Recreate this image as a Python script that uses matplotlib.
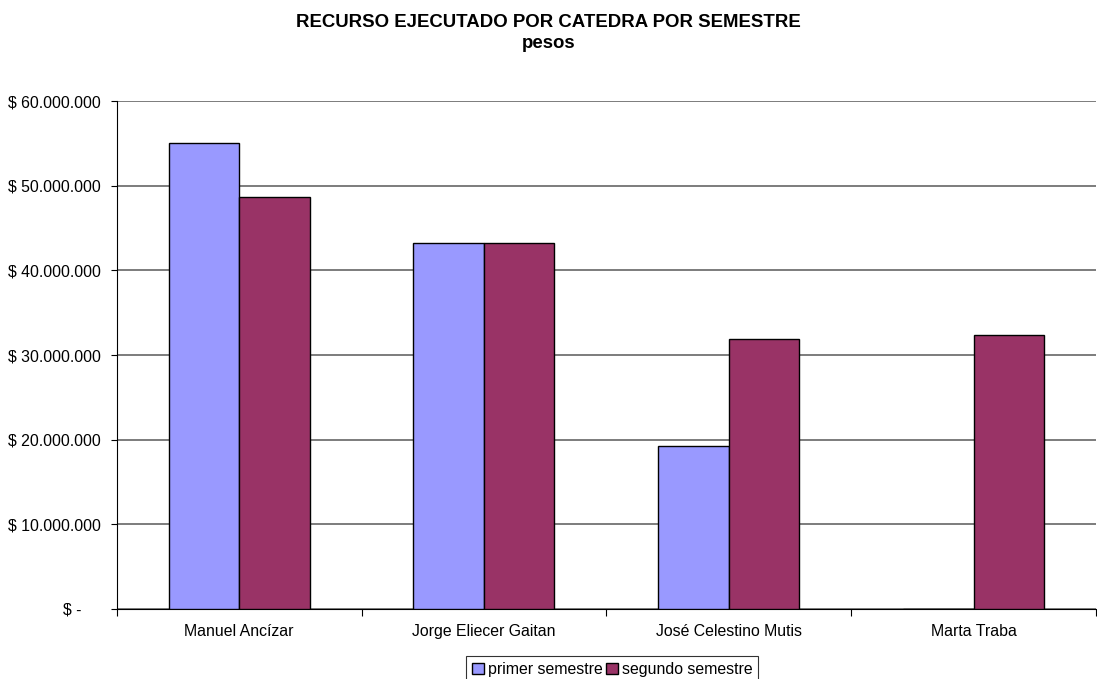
import numpy as np
import matplotlib
matplotlib.use("Agg")
import matplotlib.pyplot as plt
from matplotlib.ticker import FuncFormatter
from matplotlib.transforms import ScaledTranslation

plt.rcParams['font.family'] = ['Liberation Sans', 'DejaVu Sans']

catedras = ["Manuel Ancízar", "Jorge Eliecer Gaitan", "José Celestino Mutis", "Marta Traba"]
primer = [55100000, 43300000, 19200000, 0]
segundo = [48700000, 43200000, 31900000, 32400000]
yticks = [0, 10000000, 20000000, 30000000, 40000000, 50000000, 60000000]

def pesos(v, pos):
    if v == 0:
        return "$ -"
    return "$ " + f"{int(v):,}".replace(",", ".")

fs = 11.4
fig = plt.figure(figsize=(10.97, 6.79), dpi=100)
ax = fig.add_axes([0.1064, 0.1035, 0.8927, 0.7473])

x = np.arange(len(catedras))
w = 0.288
ax.bar(x - w / 2, primer, w, color="#9999FF", edgecolor="black", linewidth=1, label="primer semestre", zorder=3)
ax.bar(x + w / 2, segundo, w, color="#993366", edgecolor="black", linewidth=1, label="segundo semestre", zorder=3)

ax.set_xlim(-0.5, len(catedras) - 0.5)
ax.set_ylim(0, 60000000)
ax.set_yticks(yticks)
ax.yaxis.set_major_formatter(FuncFormatter(pesos))
ax.yaxis.grid(True, color="#666666", linewidth=1.2, zorder=0)

# ticks on category boundaries, labels centred on categories
ax.set_xticks(np.arange(-0.5, len(catedras)))
ax.set_xticklabels([""] * (len(catedras) + 1))
ax.set_xticks(x, minor=True)
ax.set_xticklabels(catedras, minor=True)
ax.tick_params(axis="x", which="major", length=5, color="black")
ax.tick_params(axis="x", which="minor", length=0, pad=11, labelsize=fs)
ax.tick_params(axis="y", length=4, pad=7.5, labelsize=fs)

for s in ["top", "right"]:
    ax.spines[s].set_visible(False)

# "$ -" sits further left in the original accounting format
lbl = ax.yaxis.get_major_ticks()[0].label1
lbl.set_transform(lbl.get_transform() + ScaledTranslation(-0.19, 0, fig.dpi_scale_trans))

fig.text(0.5, 1 - 27 / 679, "RECURSO EJECUTADO POR CATEDRA POR SEMESTRE", ha="center", va="baseline",
         fontsize=13.4, fontweight="bold")
fig.text(0.5, 1 - 48 / 679, "pesos", ha="center", va="baseline", fontsize=13.4, fontweight="bold")

leg = fig.legend(loc="upper left", bbox_to_anchor=(466 / 1097, 1 - 656 / 679), ncol=2, fontsize=fs,
                 frameon=True, fancybox=False, edgecolor="black", handlelength=0.74,
                 handleheight=0.74, handletextpad=0.25, columnspacing=0.23, borderpad=0.38,
                 borderaxespad=0)
leg.get_frame().set_linewidth(0.8)

fig.savefig("out.png", dpi=100)
